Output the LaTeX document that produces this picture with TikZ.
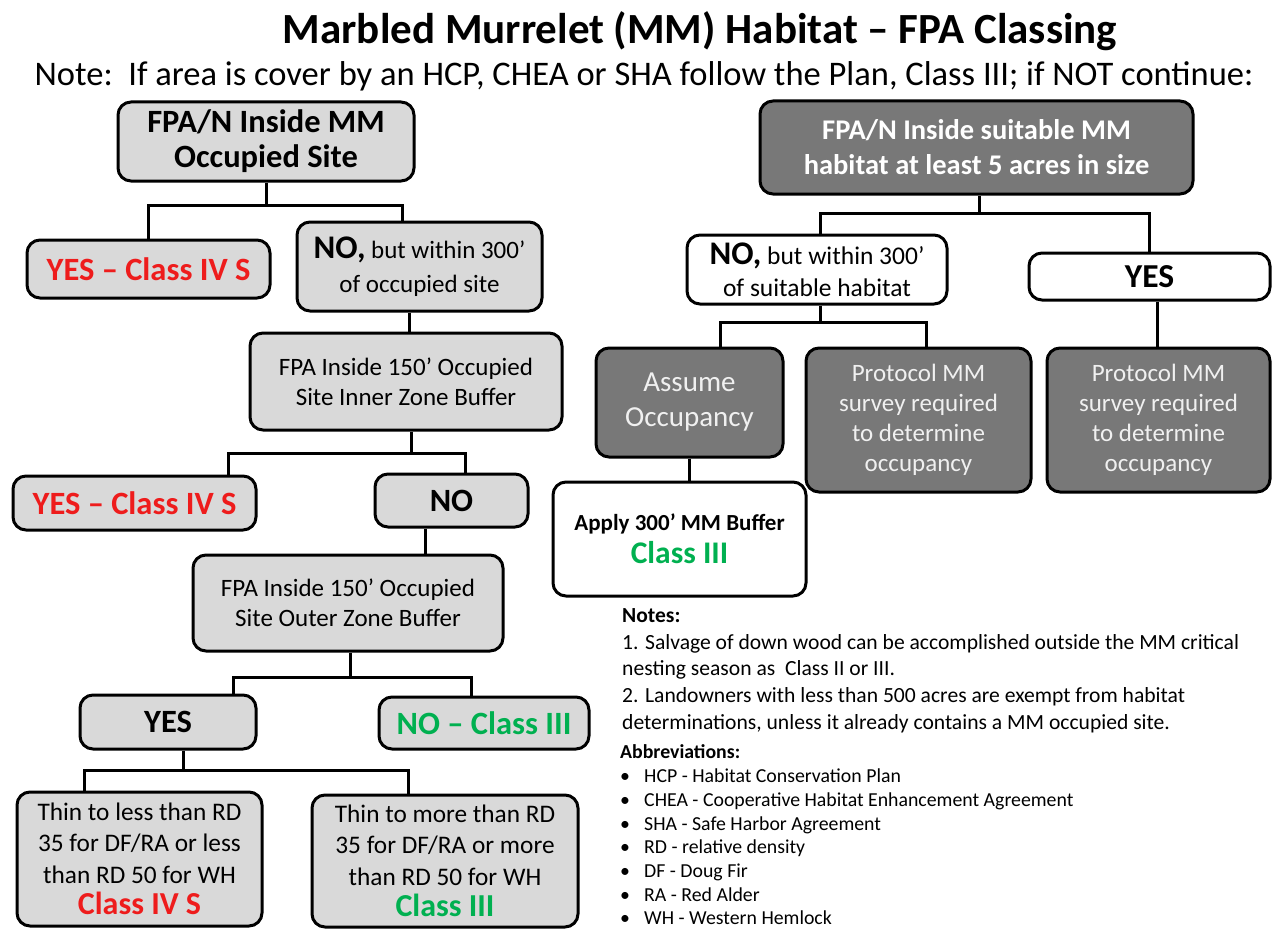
\documentclass[tikz,border=0pt]{standalone}
\usepackage{fontspec}
\setmainfont{Carlito}
\definecolor{lgray}{HTML}{D9D9D9}
\definecolor{dgray}{HTML}{787878}
\definecolor{mred}{HTML}{EE1C1C}
\definecolor{mgreen}{HTML}{00B050}
\definecolor{ltext}{HTML}{F0F0F0}
\begin{document}
\begin{tikzpicture}[x=1pt,y=-1pt,
  box/.style={draw=black, line width=3pt, rounded corners=13pt, align=center,
              inner sep=0pt, fill=lgray, text=black},
  dbox/.style={box, fill=dgray, text=ltext},
  wbox/.style={box, fill=white},
  conn/.style={line width=3pt},
  bigb/.style={font=\fontsize{32.5}{35}\selectfont\bfseries},
  reg/.style={font=\fontsize{25}{30}\selectfont},
]
\useasboundingbox (0,0) rectangle (1273,931);

% title and note
\node (title) at (700,31) {\fontsize{43}{46}\selectfont\bfseries Marbled Murrelet (MM) Habitat – FPA Classing};
\node (note) at (644,76) {\fontsize{34.5}{38}\selectfont Note:\ \ If area is cover by an HCP, CHEA or SHA follow the Plan, Class III; if NOT continue:};

% left column
\node[box, bigb, minimum width=296pt, minimum height=79pt] (b1) at (266,141.5) {FPA/N Inside MM\\Occupied Site};
\node[box, bigb, text=mred, minimum width=243pt, minimum height=58pt] (b2) at (148.5,269) {YES – Class IV S};
\node[box, font=\fontsize{25}{34}\selectfont, minimum width=245pt, minimum height=89pt] (b3) at (419.5,266.5)
  {{\fontsize{33}{34}\selectfont\bfseries NO,} but within 300’\\of occupied site};
\node[box, reg, minimum width=312pt, minimum height=97pt] (b4) at (406,381.5) {FPA Inside 150’ Occupied\\Site Inner Zone Buffer};
\node[box, bigb, text=mred, minimum width=243pt, minimum height=54pt] (b5) at (134.5,503) {YES – Class IV S};
\node[box, bigb, minimum width=153pt, minimum height=53pt] (b6) at (451.5,500.5) {NO};
\node[box, reg, minimum width=310pt, minimum height=96pt] (b7) at (348,603) {FPA Inside 150’ Occupied\\Site Outer Zone Buffer};
\node[box, bigb, minimum width=176pt, minimum height=54pt] (b8) at (168,722) {YES};
\node[box, bigb, text=mgreen, minimum width=210pt, minimum height=52pt] (b9) at (484,723) {NO – Class III};
\node[box, font=\fontsize{25.3}{31.5}\selectfont, minimum width=245pt, minimum height=134pt] (b10) at (139.5,859)
  {Thin to less than RD\\35 for DF/RA or less\\than RD 50 for WH\\{\fontsize{32}{31.5}\selectfont\bfseries\color{mred}Class IV S}};
\node[box, font=\fontsize{25.3}{31.5}\selectfont, minimum width=266pt, minimum height=132pt] (b11) at (445,861)
  {Thin to more than RD\\35 for DF/RA or more\\than RD 50 for WH\\{\fontsize{32}{31.5}\selectfont\bfseries\color{mgreen}Class III}};

% right column
\node[dbox, font=\fontsize{28.5}{35}\selectfont\bfseries, text=white, minimum width=433pt, minimum height=93pt] (r1) at (976.5,147.5)
  {FPA/N Inside suitable MM\\habitat at least 5 acres in size};
\node[wbox, font=\fontsize{25.5}{32}\selectfont, minimum width=260pt, minimum height=69pt] (r2) at (817,269.5)
  {{\fontsize{33}{32}\selectfont\bfseries NO,} but within 300’\\of suitable habitat};
\node[wbox, font=\fontsize{33.5}{35}\selectfont\bfseries, minimum width=241pt, minimum height=47pt] (r3) at (1149.5,276.5) {YES};
\node[dbox, font=\fontsize{29}{35}\selectfont, minimum width=187pt, minimum height=109pt] (r4) at (689.5,402.5) {Assume\\Occupancy};
\node[dbox, font=\fontsize{25}{30}\selectfont, minimum width=225pt, minimum height=144pt] (r5) at (918.5,420)
  {Protocol MM\\survey required\\to determine\\occupancy};
\node[dbox, font=\fontsize{25}{30}\selectfont, minimum width=223pt, minimum height=144pt] (r6) at (1158.5,420)
  {Protocol MM\\survey required\\to determine\\occupancy};
\node[wbox, font=\fontsize{23}{33}\selectfont\bfseries, minimum width=253pt, minimum height=114pt] (r7) at (679.5,539)
  {Apply 300’ MM Buffer\\{\fontsize{31.5}{33}\selectfont\color{mgreen}Class III}};

% connectors left
\draw[conn] (b1.south) -- (b1.south |- 0,205) coordinate (j1);
\draw[conn] (b2.north) |- (j1) -| ([xshift=-17.5pt]b3.north);
\draw[conn] ([xshift=-10pt]b3.south) -- ([xshift=-10pt]b3.south |- b4.north);
\draw[conn] ([xshift=5pt]b4.south) -- ([xshift=5pt]b4.south |- 0,453) coordinate (j2);
\draw[conn] ([xshift=93.5pt]b5.north) |- (j2) -| ([xshift=13.5pt]b6.north);
\draw[conn] ([xshift=-26.5pt]b6.south) -- ([xshift=-26.5pt]b6.south |- b7.north);
\draw[conn] ([xshift=2pt]b7.south) -- ([xshift=2pt]b7.south |- 0,677) coordinate (j3);
\draw[conn] ([xshift=65pt]b8.north) |- (j3) -| ([xshift=-13pt]b9.north);
\draw[conn] ([xshift=15pt]b8.south) -- ([xshift=15pt]b8.south |- 0,770) coordinate (j4);
\draw[conn] ([xshift=-55.5pt]b10.north) |- (j4) -| ([xshift=-37pt]b11.north);

% connectors right
\draw[conn] ([xshift=2.5pt]r1.south) -- ([xshift=2.5pt]r1.south |- 0,213) coordinate (k1);
\draw[conn] ([xshift=3pt]r2.north) |- (k1) -| (r3.north);
\draw[conn] ([xshift=3pt]r2.south) -- ([xshift=3pt]r2.south |- 0,322) coordinate (k2);
\draw[conn] ([xshift=30.5pt]r4.north) |- (k2) -| ([xshift=7.5pt]r5.north);
\draw[conn] ([xshift=7.5pt]r3.south) -- ([xshift=7.5pt]r3.south |- r6.north);
\draw[conn] (r4.south) -- (r4.south |- r7.north);

% notes
\node[anchor=north west, align=left, inner sep=0pt] (notes) at (622,608)
  {\fontsize{21.5}{25}\selectfont\bfseries Notes:};
\node[anchor=north west, align=left, inner sep=0pt, font=\fontsize{21.6}{26.7}\selectfont] (notetext) at (622,634)
  {1. Salvage of down wood can be accomplished outside the MM critical\\
   nesting season as\ \ Class II or III.\\
   2. Landowners with less than 500 acres are exempt from habitat\\
   determinations, unless it already contains a MM occupied site.};
\node[anchor=north west, align=left, inner sep=0pt] (abbr) at (620,744)
  {\fontsize{19.8}{22}\selectfont\bfseries Abbreviations:};
\node[anchor=north west, align=left, inner sep=0pt, font=\fontsize{19.8}{23.67}\selectfont] (abbrlist) at (620,769)
  {\makebox[24pt][l]{\textbullet}HCP - Habitat Conservation Plan\\
   \makebox[24pt][l]{\textbullet}CHEA - Cooperative Habitat Enhancement Agreement\\
   \makebox[24pt][l]{\textbullet}SHA - Safe Harbor Agreement\\
   \makebox[24pt][l]{\textbullet}RD - relative density\\
   \makebox[24pt][l]{\textbullet}DF - Doug Fir\\
   \makebox[24pt][l]{\textbullet}RA - Red Alder\\
   \makebox[24pt][l]{\textbullet}WH - Western Hemlock};
\end{tikzpicture}
\end{document}
